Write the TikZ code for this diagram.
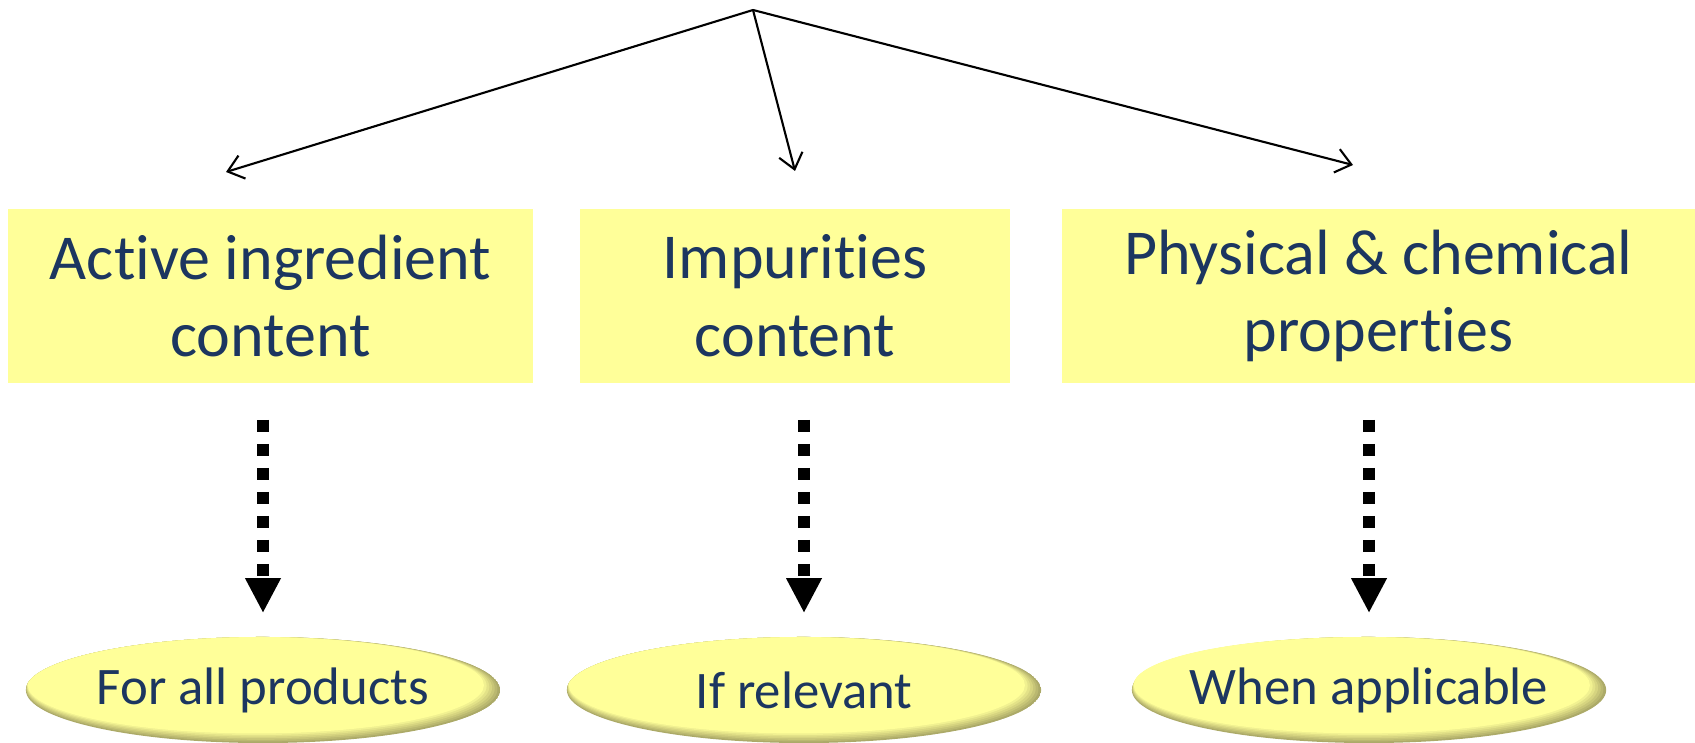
\documentclass[tikz,border=0pt]{standalone}
\usepackage{fontspec}
\setmainfont{Carlito}[Ligatures=NoCommon,RawFeature={-liga;-clig}]
\usetikzlibrary{arrows.meta,shapes.geometric,calc}
\definecolor{boxyellow}{HTML}{FFFF99}
\definecolor{ovaldark}{HTML}{A3A062}
\definecolor{textnavy}{HTML}{1C3660}
\tikzset{
  propbox/.style={rectangle,fill=boxyellow,text=textnavy,align=center,inner sep=0pt,
    minimum height=1.74cm,font=\fontsize{18.2}{22.1}\selectfont},
  oval/.style={ellipse,text=textnavy,inner sep=0pt,
    minimum width=4.74cm,minimum height=1.06cm,font=\fontsize{15}{18}\selectfont,
    path picture={
      \foreach \i [evaluate=\i as \p using 90-15*\i] in {0,...,6}
        \fill[ovaldark!\p!boxyellow] ($(path picture bounding box.center)+(-0.012*\i cm,0.008*\i cm)$)
          ellipse [x radius=2.37cm-0.015*\i cm,y radius=0.53cm-0.008*\i cm];
    }},
  thinarrow/.style={-{Straight Barb[length=0.15cm,width=0.24cm]},line width=0.6pt},
  dotarrow/.style={-{Triangle[length=0.34cm,width=0.36cm,line width=0pt]},line width=0.12cm,
    dash pattern=on 0.12cm off 0.12cm,shorten <=0.36cm,shorten >=0.24cm}
}
\begin{document}
\begin{tikzpicture}[x=0.01cm,y=-0.01cm]
\useasboundingbox (0,0) rectangle (1695,743);
\coordinate (T) at (753,10);
\coordinate (aT) at (226,172);
\coordinate (iT) at (795,171);
\coordinate (pT) at (1353,165);

\node[propbox,minimum width=5.25cm] (active) at (270.5,296) {Active ingredient\\content};
\node[propbox,minimum width=4.3cm] (impur) at (795,296) {Impurities\\content};
\node[propbox,minimum width=6.33cm] (physchem) at (1378.5,296) {Physical \& chemical\\properties};

\node[oval] (allprod) at (263,690) {For all products};
\node[oval] (relevant) at (804,690) {If relevant};
\node[oval] (applic) at (1369,690) {When applicable};

\foreach \t in {aT,iT,pT}
	\draw[thinarrow] (T) -- (\t);
\foreach \b/\e in {active/allprod,impur/relevant,physchem/applic}
	\draw[dotarrow] (\e.north |- \b.south) -- (\e.north);
\end{tikzpicture}
\end{document}
